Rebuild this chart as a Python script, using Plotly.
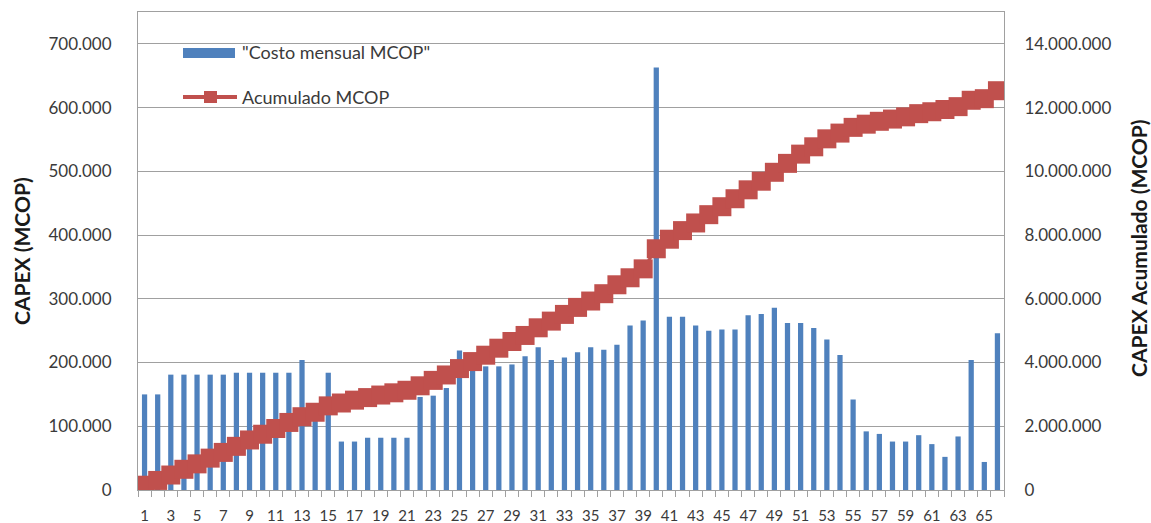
import plotly.graph_objects as go

# Monthly CAPEX and accumulated CAPEX (MCOP)
months = list(range(1, 67))
monthly_cost = [
    150000, 150000, 181000, 181000, 181000, 181000, 181000, 184000, 184000, 184000,
    184000, 184000, 204000, 130000, 184000, 76000, 76000, 82000, 82000, 82000,
    82000, 146000, 148000, 160000, 219000, 188000, 194000, 194000, 197000, 210000,
    224000, 204000, 208000, 216000, 224000, 220000, 228000, 258000, 266000, 663000,
    272000, 272000, 258000, 250000, 252000, 252000, 274000, 276000, 286000, 262000,
    262000, 254000, 236000, 212000, 142000, 92000, 88000, 76000, 76000, 86000,
    72000, 52000, 84000, 204000, 44000, 246000,
]
cumulative = [
    150000, 300000, 470000, 650000, 820000, 1000000, 1180000, 1370000, 1570000, 1750000,
    1930000, 2120000, 2300000, 2440000, 2640000, 2730000, 2820000, 2900000, 2980000, 3050000,
    3130000, 3270000, 3440000, 3610000, 3810000, 4030000, 4230000, 4450000, 4660000, 4850000,
    5090000, 5300000, 5510000, 5730000, 5930000, 6160000, 6440000, 6660000, 6940000, 7570000,
    7870000, 8140000, 8380000, 8640000, 8890000, 9140000, 9420000, 9690000, 9970000, 10250000,
    10540000, 10770000, 11020000, 11200000, 11380000, 11480000, 11570000, 11640000, 11710000, 11810000,
    11870000, 11940000, 12030000, 12230000, 12280000, 12530000,
]
x_tick_months = months[::2]

BLUE = "#4F81BD"
RED = "#C0504D"
GRID = "#A0A0A0"
TEXT = "#3A3A3A"
FONT = "Lato"

W, H = 1151, 523
L, R, T, B = 138, 147, 12, 33
PW, PH = W - L - R, H - T - B


def px(xp):
    return (xp - L) / PW


def py(yp):
    return (H - B - yp) / PH


fig = go.Figure()
fig.add_trace(go.Bar(
    x=months, y=monthly_cost, width=0.4,
    marker=dict(color=BLUE, line=dict(width=0)),
    name='"Costo mensual MCOP"', showlegend=False,
))
fig.add_trace(go.Scatter(
    x=months, y=cumulative, yaxis="y2", mode="lines+markers",
    line=dict(color=RED, width=3),
    marker=dict(symbol="square", size=19, color=RED),
    name="Acumulado MCOP", showlegend=False,
))

# Legend drawn by hand in the upper-left of the plot area
shapes = [
    dict(type="rect", xref="paper", yref="paper",
         x0=px(183), x1=px(235), y0=py(58), y1=py(48),
         fillcolor=BLUE, line=dict(width=0)),
    dict(type="line", xref="paper", yref="paper",
         x0=px(183), x1=px(237), y0=py(97), y1=py(97),
         line=dict(color=RED, width=4)),
    dict(type="rect", xref="paper", yref="paper",
         x0=px(204), x1=px(217), y0=py(103), y1=py(91),
         fillcolor=RED, line=dict(width=0)),
]
annotations = [
    dict(text='"Costo mensual MCOP"', xref="paper", yref="paper",
         x=px(240), y=py(52), xanchor="left", yanchor="middle", showarrow=False,
         font=dict(family=FONT, size=18, color=TEXT)),
    dict(text="Acumulado MCOP", xref="paper", yref="paper",
         x=px(240), y=py(97), xanchor="left", yanchor="middle", showarrow=False,
         font=dict(family=FONT, size=18, color=TEXT)),
    dict(text="<b>CAPEX (MCOP)</b>", xref="paper", yref="paper",
         x=px(21), y=py(251), xanchor="center", yanchor="middle", textangle=-90,
         showarrow=False, font=dict(family=FONT, size=21, color="#1A1A1A")),
    dict(text="<b>CAPEX Acumulado (MCOP)</b>", xref="paper", yref="paper",
         x=px(1139), y=py(248), xanchor="center", yanchor="middle", textangle=-90,
         showarrow=False, font=dict(family=FONT, size=21, color="#1A1A1A")),
]

fig.update_layout(
    width=W, height=H,
    margin=dict(l=L, r=R, t=T, b=B, pad=0, autoexpand=False),
    paper_bgcolor="white", plot_bgcolor="white",
    separators=",.",
    font=dict(family=FONT, size=17, color=TEXT),
    bargap=0.6,
    shapes=shapes,
    annotations=annotations,
    xaxis=dict(
        range=[0.5, 66.5], tickmode="array", tickvals=x_tick_months,
        ticks="", showgrid=False, zeroline=False, automargin=False,
        showline=True, linecolor=GRID, linewidth=1, mirror=True,
        tickfont=dict(family=FONT, size=15, color=TEXT),
        ticklabelstandoff=12,
        minor=dict(tick0=0.5, dtick=1, ticks="outside", ticklen=6,
                   tickcolor=GRID, tickwidth=1, showgrid=False),
    ),
    yaxis=dict(
        range=[0, 750000], dtick=100000, tick0=0, tickformat=",d",
        showgrid=True, gridcolor=GRID, gridwidth=1, zeroline=False,
        showline=True, linecolor=GRID, linewidth=1, ticks="", automargin=False,
        ticklabelstandoff=22,
        tickfont=dict(family=FONT, size=17, color=TEXT),
    ),
    yaxis2=dict(
        range=[0, 15000000], dtick=2000000, tick0=0, tickformat=",d",
        overlaying="y", side="right", showgrid=False, zeroline=False,
        showline=True, linecolor=GRID, linewidth=1, ticks="", automargin=False,
        ticklabelstandoff=16,
        tickfont=dict(family=FONT, size=17, color=TEXT),
    ),
)

fig.write_html("out.html")
